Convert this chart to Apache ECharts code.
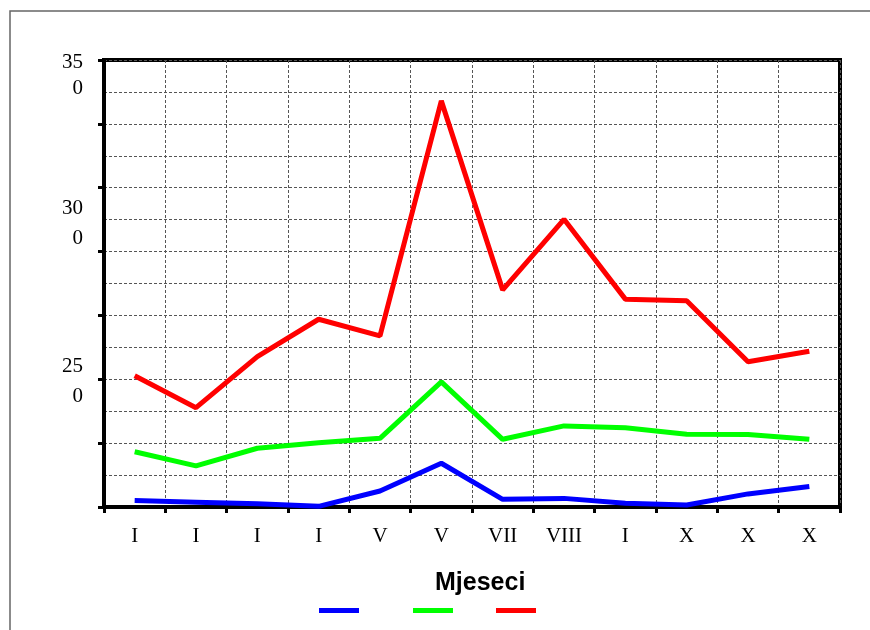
<!DOCTYPE html>
<html style="height: 100%; width: 100%">
<head>
  <meta charset="utf-8" />
</head>
<body style="height: 100%; width: 100%; margin: 0; background: #fff;">
  <div id="chart-panel" style="height: 630px; width: 870px;"></div>
  <script type="text/javascript" src="https://cdn.jsdelivr.net/npm/echarts@6/dist/echarts.min.js"></script>
  <script type="text/javascript">
    // mjeseci (skraceni rimski brojevi kako su na slici)
    var months = ["I", "I", "I", "I", "V", "V", "VII", "VIII", "I", "X", "X", "X"];
    var blueData = [212.0, 211.5, 211.0, 210.2, 215.0, 223.7, 212.4, 212.7, 211.2, 210.6, 214.1, 216.4];
    var greenData = [227.3, 222.9, 228.4, 230.1, 231.5, 249.2, 231.2, 235.4, 234.8, 232.8, 232.7, 231.2];
    var redData = [251.1, 241.1, 257.1, 268.8, 263.6, 337.2, 278.0, 300.1, 275.1, 274.6, 255.5, 258.8];
    var yLabels = [250, 300, 350];

    var dom = document.getElementById("chart-panel");
    var myChart = echarts.init(dom);

    var gridLine = { color: "#555", width: 1, type: [3, 2] };

    function legendAt(name, left) {
      return {
        data: [name],
        left: left,
        top: 603,
        icon: "rect",
        itemWidth: 40,
        itemHeight: 5,
        itemGap: 0,
        formatter: function () { return ""; },
        selectedMode: false
      };
    }

    var labelFont = { fontFamily: "Liberation Serif", fontSize: 21, color: "#000" };

    var option = {
      animation: false,
      backgroundColor: "#fff",
      title: {
        text: "Mjeseci",
        left: 430,
        top: 566,
        textStyle: { fontFamily: "Liberation Sans", fontWeight: "bold", fontSize: 25, color: "#000" }
      },
      legend: [legendAt("s1", 314), legendAt("s2", 408), legendAt("s3", 491)],
      grid: {
        left: 104,
        right: 30,
        top: 60,
        bottom: 123,
        show: true,
        borderColor: "#000",
        borderWidth: 4
      },
      xAxis: {
        type: "category",
        data: months,
        boundaryGap: true,
        axisLine: { show: true, lineStyle: { color: "#000", width: 4 } },
        axisTick: { show: true, inside: false, length: 6, lineStyle: { color: "#000", width: 3 } },
        axisLabel: {
          interval: 0,
          margin: 19,
          fontFamily: "Liberation Serif",
          fontSize: 21,
          color: "#000"
        },
        splitLine: { show: true, interval: 0, lineStyle: gridLine }
      },
      yAxis: [
        {
          type: "value",
          min: 210,
          max: 350,
          interval: 10,
          axisLine: { show: true, lineStyle: { color: "#000", width: 4 } },
          axisTick: { show: false },
          splitLine: { show: true, lineStyle: gridLine },
          axisLabel: {
            margin: 21,
            fontFamily: "Liberation Serif",
            fontSize: 21,
            color: "#000",
            rich: {
              a: Object.assign({ lineHeight: 30, align: "right" }, labelFont),
              c: Object.assign({ lineHeight: 26, align: "right" }, labelFont),
              s4: { fontSize: 1, lineHeight: 4 },
              s8: { fontSize: 1, lineHeight: 8 },
              s30: { fontSize: 1, lineHeight: 30 }
            },
            formatter: function (v) {
              if (yLabels.indexOf(v) < 0) return "";
              var s = String(v);
              var hi = s.slice(0, 2), lo = s.slice(2);
              if (v === 350) return "{s30| }\n{c|" + hi + "}\n{c|" + lo + "}";
              if (v === 300) return "{s8| }\n{a|" + hi + "}\n{a|" + lo + "}";
              return "{s4| }\n{a|" + hi + "}\n{a|" + lo + "}";
            }
          }
        },
        {
          // samo glavne crtice osi (svakih 20)
          type: "value",
          position: "left",
          min: 200,
          max: 340,
          interval: 20,
          axisLine: { show: false },
          axisTick: { show: true, inside: false, length: 6, lineStyle: { color: "#000", width: 3 } },
          axisLabel: { show: false },
          splitLine: { show: false }
        }
      ],
      series: [
        {
          name: "s1",
          type: "line",
          data: blueData,
          symbol: "none",
          clip: false,
          color: "#0000FF",
          lineStyle: { color: "#0000FF", width: 5 }
        },
        {
          name: "s2",
          type: "line",
          data: greenData,
          symbol: "none",
          color: "#00FF00",
          lineStyle: { color: "#00FF00", width: 5 }
        },
        {
          name: "s3",
          type: "line",
          data: redData,
          symbol: "none",
          color: "#FF0000",
          lineStyle: { color: "#FF0000", width: 5 }
        }
      ],
      graphic: [
        {
          type: "rect",
          shape: { x: 10, y: 11, width: 900, height: 700 },
          style: { fill: null, stroke: "#666", lineWidth: 1.5 },
          silent: true
        }
      ]
    };

    myChart.setOption(option);
  </script>
</body>
</html>
